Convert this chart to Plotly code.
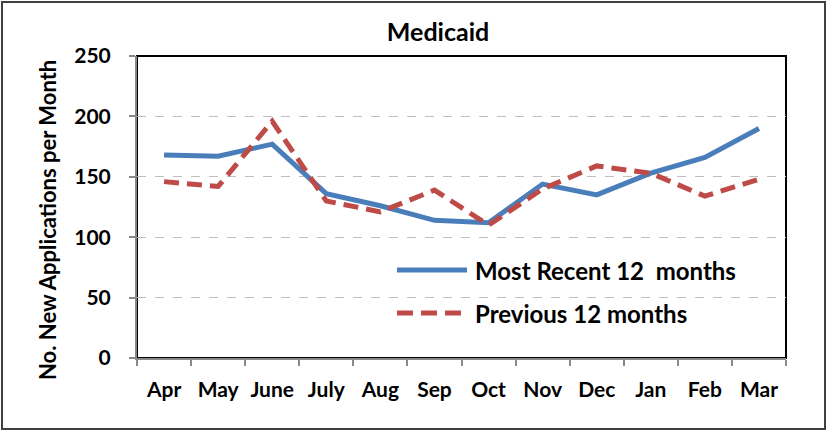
import plotly.graph_objects as go

months = ["Apr", "May", "June", "July", "Aug", "Sep", "Oct", "Nov", "Dec", "Jan", "Feb", "Mar"]
recent = [168, 167, 177, 136, 126, 114, 112, 144, 135, 153, 166, 190]
previous = [146, 142, 196, 130, 121, 139, 110, 140, 159, 153, 134, 148]
y_ticks = [0, 50, 100, 150, 200, 250]

BLUE = "#4a7ebb"
RED = "#be4b48"
FONT = "Lato, Carlito, Calibri, sans-serif"

W, H = 827, 431
ML, MR, MT, MB = 137, 41, 56, 73
PW, PH = W - ML - MR, H - MT - MB

def px(x):
    return (x - ML) / PW

def py(y):
    return (H - MB - y) / PH

fig = go.Figure()
fig.add_trace(go.Scatter(x=months, y=recent, mode="lines", name="Most Recent 12  months",
                         line=dict(color=BLUE, width=5)))
fig.add_trace(go.Scatter(x=months, y=previous, mode="lines", name="Previous 12 months",
                         line=dict(color=RED, width=5, dash="15px,8px")))

shapes = [
    # plot frame
    dict(type="rect", xref="paper", yref="paper", x0=0, x1=1, y0=0, y1=1,
         line=dict(color="black", width=2), layer="below"),
    # outer chart frame
    dict(type="rect", xref="paper", yref="paper", x0=px(2), x1=px(825), y0=py(429), y1=py(2),
         line=dict(color="#404040", width=2)),
    # legend samples
    dict(type="line", xref="paper", yref="paper", x0=px(397), x1=px(467), y0=py(270), y1=py(270),
         line=dict(color=BLUE, width=5)),
    dict(type="line", xref="paper", yref="paper", x0=px(397), x1=px(462), y0=py(313), y1=py(313),
         line=dict(color=RED, width=5, dash="16px,8px")),
]
annotations = [
    dict(text="<b>Most Recent 12  months</b>", xref="paper", yref="paper", x=px(473), y=py(270),
         xanchor="left", yanchor="middle", showarrow=False, font=dict(size=24, color="black", family=FONT)),
    dict(text="<b>Previous 12 months</b>", xref="paper", yref="paper", x=px(473), y=py(313),
         xanchor="left", yanchor="middle", showarrow=False, font=dict(size=24, color="black", family=FONT)),
    # y-axis title
    dict(text="<b>No. New Applications per Month</b>", xref="paper", yref="paper", x=px(47), y=py(220),
         xanchor="center", yanchor="middle", textangle=-90, showarrow=False,
         font=dict(size=22, color="black", family=FONT)),
]

fig.update_layout(
    width=W, height=H,
    margin=dict(l=ML, r=MR, t=MT, b=MB),
    paper_bgcolor="white", plot_bgcolor="white",
    showlegend=False,
    font=dict(family=FONT, color="black"),
    title=dict(text="<b>Medicaid</b>", x=438 / W, xanchor="center", y=1 - 32 / H, yanchor="middle",
               font=dict(size=25, family=FONT, color="black")),
    shapes=shapes,
    annotations=annotations,
)
fig.update_xaxes(
    type="category", tickson="boundaries", ticks="outside", ticklen=6, tickwidth=1.5, tickcolor="#888",
    showline=True, linecolor="#888", linewidth=2, showgrid=False,
    tickvals=months, ticktext=[f"<b>{m}</b>" for m in months],
    tickfont=dict(size=21, family=FONT), ticklabelstandoff=12,
    range=[-0.5, 11.5],
)
fig.update_yaxes(
    range=[0, 250], tickvals=y_ticks, ticktext=[f"<b>{v}</b>" for v in y_ticks],
    ticks="outside", ticklen=6, tickcolor="#888", tickwidth=1.5,
    showline=True, linecolor="#888", linewidth=2,
    showgrid=True, gridcolor="#bfbfbf", griddash="dash", gridwidth=1.2,
    zeroline=False, tickfont=dict(size=21, family=FONT), ticklabelstandoff=14,
)

fig.write_html("out.html")
